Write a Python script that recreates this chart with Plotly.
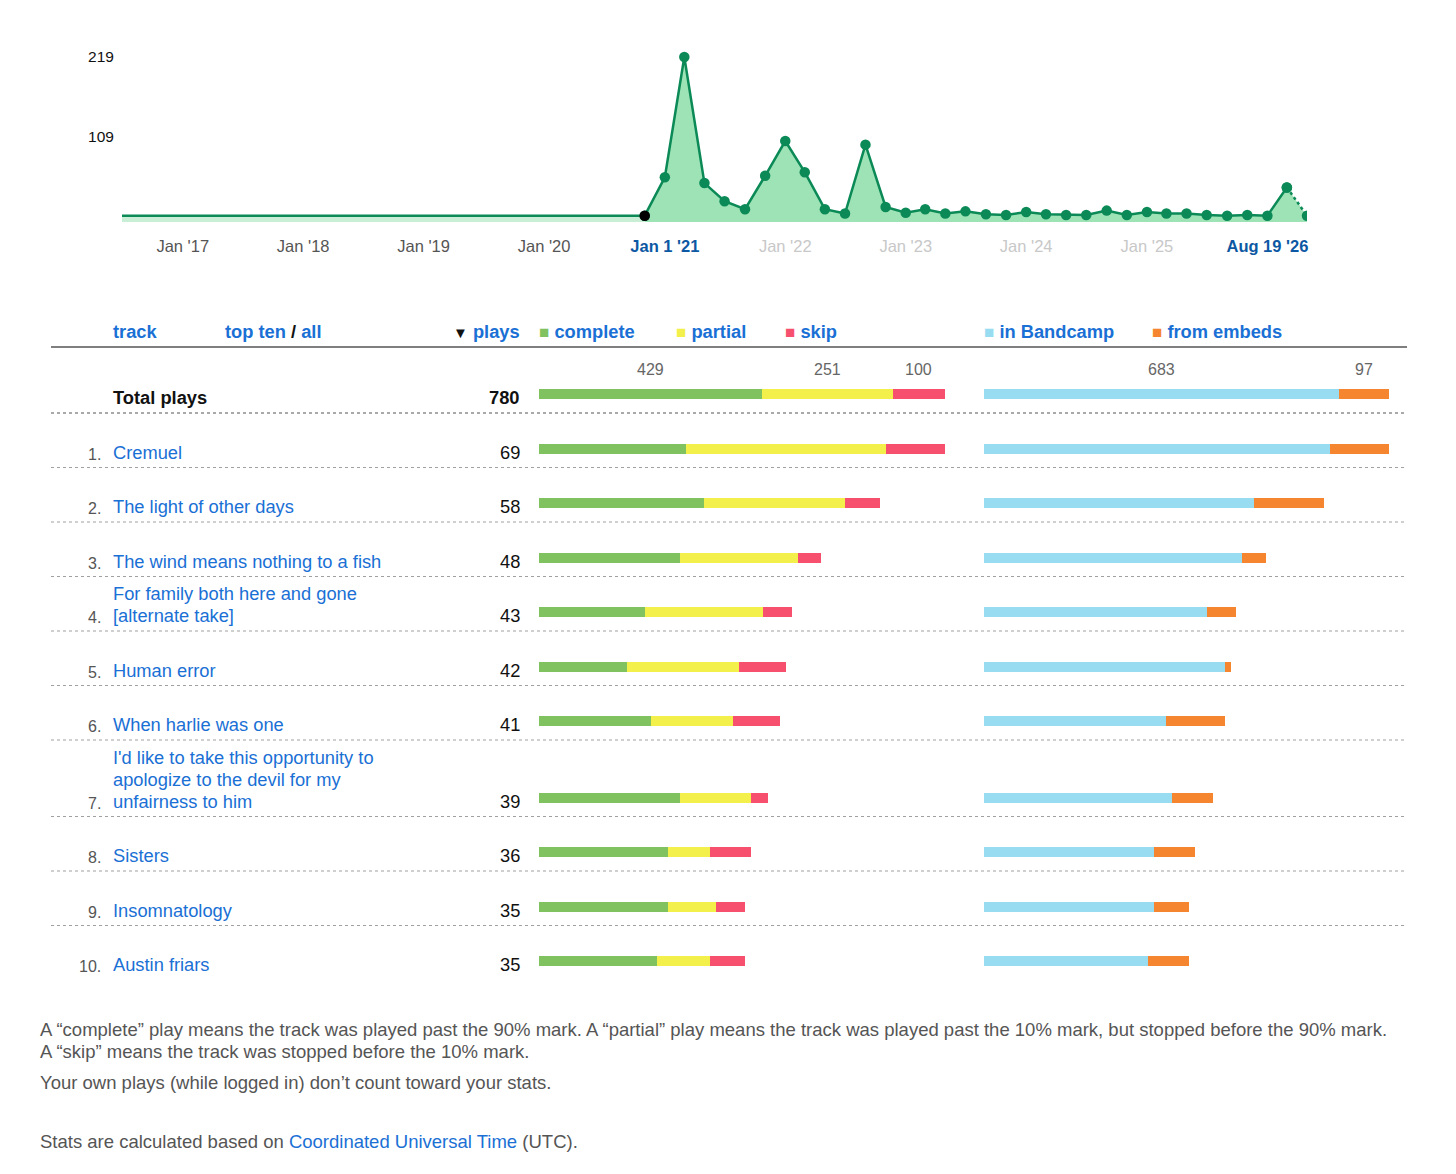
import pandas as pd
import numpy as np
import plotly.graph_objects as go

W, H = 1456, 1174

# ---- data ----
timeline_start = "2016-07-01"
timeline_end = "2026-05-01"
timeline_dates = pd.date_range("2020-11-01", periods=34, freq="2MS")
timeline_plays = [0, 53, 219, 45, 20, 9, 55, 103, 60, 9, 3, 98, 12, 4, 9, 3, 6,
                  2, 1, 5, 2, 1, 1, 7, 1, 5, 3, 3, 1, 0, 1, 0, 39, 0]
year_ticks = ["Jan '17", "Jan '18", "Jan '19", "Jan '20", "Jan 1 '21",
              "Jan '22", "Jan '23", "Jan '24", "Jan '25", "Aug 19 '26"]

tracks = ["Cremuel", "The light of other days", "The wind means nothing to a fish",
          "For family both here and gone<br>[alternate take]", "Human error",
          "When harlie was one",
          "I'd like to take this opportunity to<br>apologize to the devil for my<br>unfairness to him",
          "Sisters", "Insomnatology", "Austin friars"]
plays = [69, 58, 48, 43, 42, 41, 39, 36, 35, 35]
complete = [25, 28, 24, 18, 15, 19, 24, 22, 22, 20]
partial = [34, 24, 20, 20, 19, 14, 12, 7, 8, 9]
skip = [10, 6, 4, 5, 8, 8, 3, 7, 5, 6]
in_bandcamp = [59, 46, 44, 38, 41, 31, 32, 29, 29, 28]
from_embeds = [10, 12, 4, 5, 1, 10, 7, 7, 6, 7]

total_plays = 780
total_types = [429, 251, 100]
total_sources = [683, 97]

type_names = ["complete", "partial", "skip"]
type_colors = ["#7fc25f", "#f3ef4b", "#f7506f"]
source_names = ["in Bandcamp", "from embeds"]
source_colors = ["#97dcf1", "#f5862f"]

BLUE = "#1a70d5"
DARK_BLUE = "#0d58a3"
FONT = "Helvetica Neue, Liberation Sans, Arial, sans-serif"

# the page body has an 8px margin, so positions are measured from it
OFF = 8


def px(x):
    return (x - OFF) / W


def py(y):
    return 1 - (y - OFF) / H


fig = go.Figure()

# ---- timeline ----
y_top = 242.4
y_bottom = -8.7
line_green = "#0b8a57"

fig.add_trace(go.Scatter(x=[timeline_start, timeline_dates[0]], y=[y_bottom, y_bottom],
                         mode="lines", line=dict(width=0), hoverinfo="skip"))
fig.add_trace(go.Scatter(x=[timeline_start, timeline_dates[0]], y=[0, 0], mode="lines",
                         fill="tonexty", fillcolor="#c8eed6",
                         line=dict(color=line_green, width=2.5)))
fig.add_trace(go.Scatter(x=timeline_dates, y=[y_bottom] * len(timeline_dates),
                         mode="lines", line=dict(width=0), hoverinfo="skip"))
fig.add_trace(go.Scatter(x=timeline_dates, y=timeline_plays, mode="lines",
                         fill="tonexty", fillcolor="#9ee3b6", line=dict(width=0)))
fig.add_trace(go.Scatter(x=timeline_dates[:-1], y=timeline_plays[:-1], mode="lines+markers",
                         line=dict(color=line_green, width=2.5),
                         marker=dict(color=line_green, size=10.5)))
fig.add_trace(go.Scatter(x=timeline_dates[-2:], y=timeline_plays[-2:], mode="lines+markers",
                         line=dict(color=line_green, width=2.5, dash="dot"),
                         marker=dict(color=line_green, size=10.5)))
fig.add_trace(go.Scatter(x=timeline_dates[:1], y=timeline_plays[:1], mode="markers",
                         marker=dict(color="black", size=10.5)))

tick_vals = [f"{y}-01-01" for y in range(2017, 2027)]
tick_text = []
for i, t in enumerate(year_ticks):
    if i in (4, 9):
        tick_text.append(f"<b><span style='color:{DARK_BLUE}'>{t}</span></b>")
    elif i > 4:
        tick_text.append(f"<span style='color:#c8c8c8'>{t}</span>")
    else:
        tick_text.append(t)

fig.update_layout(
    xaxis=dict(domain=[px(122), px(1307)], range=[timeline_start, timeline_end],
               tickvals=tick_vals, ticktext=tick_text, showgrid=False, zeroline=False,
               ticks="outside", ticklen=9, tickcolor="rgba(0,0,0,0)",
               tickfont=dict(size=16.5, color="#555555"), anchor="y"),
    yaxis=dict(domain=[py(222), py(40)], range=[y_bottom, y_top], tickvals=[109, 219],
               showgrid=False, zeroline=False, ticks="outside", ticklen=4,
               tickcolor="rgba(0,0,0,0)", tickfont=dict(size=15.5, color="#111111"),
               anchor="x"),
)

# ---- table ----
n_lines = [t.count("<br>") + 1 for t in tracks]
row_h = [54.5 + 22 * max(0, n - 2) for n in n_lines]
total_bottom = 66
bottoms = total_bottom + np.cumsum(row_h)
centers = bottoms - 19
total_center = 47
bar_w = 10

for vals, name, color in zip([complete, partial, skip], type_names, type_colors):
    fig.add_trace(go.Bar(y=centers, x=vals, orientation="h", marker=dict(color=color, line_width=0),
                         width=bar_w, xaxis="x2", yaxis="y2", name=name))
for val, name, color in zip(total_types, type_names, type_colors):
    fig.add_trace(go.Bar(y=[total_center], x=[val], orientation="h",
                         marker=dict(color=color, line_width=0),
                         width=bar_w, xaxis="x3", yaxis="y2", name=name))
for vals, name, color in zip([in_bandcamp, from_embeds], source_names, source_colors):
    fig.add_trace(go.Bar(y=centers, x=vals, orientation="h", marker=dict(color=color, line_width=0),
                         width=bar_w, xaxis="x4", yaxis="y2", name=name))
for val, name, color in zip(total_sources, source_names, source_colors):
    fig.add_trace(go.Bar(y=[total_center], x=[val], orientation="h",
                         marker=dict(color=color, line_width=0),
                         width=bar_w, xaxis="x5", yaxis="y2", name=name))

max_plays = max(plays)
hidden = dict(visible=False, showgrid=False, zeroline=False)
fig.update_layout(
    barmode="stack",
    xaxis2=dict(domain=[px(539), px(945)], range=[0, max_plays], anchor="y2", **hidden),
    xaxis3=dict(overlaying="x2", range=[0, total_plays], anchor="y2", **hidden),
    xaxis4=dict(domain=[px(984), px(1389)], range=[0, max_plays], anchor="y2", **hidden),
    xaxis5=dict(overlaying="x4", range=[0, total_plays], anchor="y2", **hidden),
    yaxis2=dict(domain=[py(979), py(347)], range=[632, 0], anchor="x2", **hidden),
)

ann = []
shapes = []
TS = 18.3


def text(x, y, s, size=TS, color="#111111", xanchor="left", yref="paper", yanchor="middle", **kw):
    ann.append(dict(x=x, y=y, text=s, xref="paper", yref=yref, showarrow=False,
                    xanchor=xanchor, yanchor=yanchor, font=dict(size=size, color=color), **kw))


# header
hy = py(331)
sq = "<span style='font-size:17px;color:{c}'>■</span>"
text(px(111), hy, "<b>track</b>", color=BLUE)
text(px(223), hy, f"<b><span style='color:{BLUE}'>top ten</span> / <span style='color:{BLUE}'>all</span></b>")
text(px(522), hy, f"<span style='font-size:15px'>▼</span> <b><span style='color:{BLUE}'>plays</span></b>",
     xanchor="right")
for x0, name, color in zip([539, 676, 785], type_names, type_colors):
    text(px(x0 - 2), hy, sq.format(c=color) + f" <b>{name}</b>", color=BLUE)
for x0, name, color in zip([984, 1152], source_names, source_colors):
    text(px(x0 - 2), hy, sq.format(c=color) + f" <b>{name}</b>", color=BLUE)
shapes.append(dict(type="line", xref="paper", yref="paper", x0=px(51), x1=px(1407),
                   y0=py(347), y1=py(347), line=dict(color="#555555", width=1.5)))

# total row
text(px(111), total_center, "<b>Total plays</b>", yref="y2", yanchor="bottom", yshift=-16)
text(px(522), total_center, f"<b>{total_plays}</b>", yref="y2", yanchor="bottom", yshift=-16,
     xanchor="right")
cum = np.cumsum([0] + total_types)
for i, v in enumerate(total_types):
    ann.append(dict(x=(cum[i] + cum[i + 1]) / 2, y=total_center - 25, xref="x3", yref="y2",
                    text=str(v), showarrow=False, font=dict(size=16, color="#666666")))
cum = np.cumsum([0] + total_sources)
for i, v in enumerate(total_sources):
    ann.append(dict(x=(cum[i] + cum[i + 1]) / 2, y=total_center - 25, xref="x5", yref="y2",
                    text=str(v), showarrow=False, font=dict(size=16, color="#666666")))

# track rows
for i, (name, p, c) in enumerate(zip(tracks, plays, centers)):
    text(px(103), c, f"{i + 1}.", size=16, color="#555555", yref="y2", xanchor="right",
         yanchor="bottom", yshift=-16)
    lines = name.split("<br>")
    for j, line in enumerate(reversed(lines)):
        text(px(111), c, line, color=BLUE, yref="y2", yanchor="bottom", yshift=-16 + 22 * j)
    text(px(522), c, str(p), yref="y2", yanchor="bottom", yshift=-16, xanchor="right")

for k, b in enumerate([total_bottom] + list(bottoms)):
    shapes.append(dict(type="line", xref="paper", yref="y2", x0=px(51), x1=px(1407),
                       y0=b, y1=b, line=dict(color="#555555" if k == 0 else "#a0a0a0",
                                             width=1, dash="dot")))

# footer
foot = "#555555"
footer_lines = [
    (1029, "A “complete” play means the track was played past the 90% mark. A “partial” play means "
           "the track was played past the 10% mark, but stopped before the 90% mark."),
    (1051, "A “skip” means the track was stopped before the 10% mark."),
    (1082, "Your own plays (while logged in) don’t count toward your stats."),
    (1141, f"Stats are calculated based on <span style='color:{BLUE}'>Coordinated Universal "
           "Time</span> (UTC)."),
]
for yy, s in footer_lines:
    text(px(38), py(yy), s, size=18.5, color=foot)

fig.update_layout(
    annotations=ann, shapes=shapes,
    width=W, height=H, margin=dict(l=0, r=0, t=0, b=0),
    showlegend=False, plot_bgcolor="rgba(0,0,0,0)", paper_bgcolor="white",
    font=dict(family=FONT, color="#111111"),
)

fig.write_html("out.html")
